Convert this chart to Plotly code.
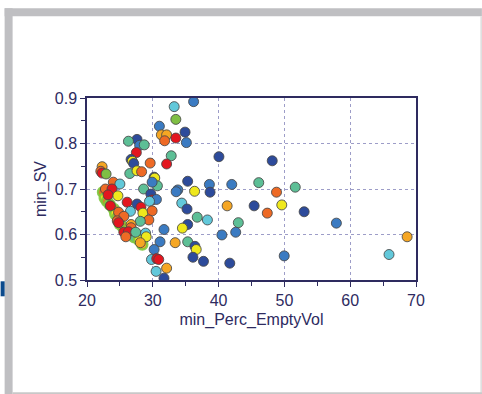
import plotly.graph_objects as go

# ---- data ----
# colour level: 0 dark blue, 1 blue, 2 cyan, 3 teal, 4 green, 5 yellow, 6 amber, 7 orange, 8 red
perc_empty = [33.25, 36.2, 33.5, 31.0, 34.9, 31.3, 32.1, 31.8, 33.5, 35.1,
              27.6, 26.3, 28.0, 28.7, 27.5, 32.8, 40.05, 26.7, 26.9, 27.1,
              29.6, 32.1, 22.3, 22.1, 22.3, 22.9, 26.5, 27.6, 28.3, 30.2,
              30.3, 24.0, 25.0, 30.7, 29.9, 35.3, 38.6, 42.0, 46.1, 22.8,
              23.8, 28.6, 33.8, 33.55, 36.35, 38.7, 23.2, 24.7, 29.7, 29.9,
              30.55, 26.1, 27.6, 23.55, 28.2, 29.5, 34.4, 35.2, 41.3, 45.4,
              24.8, 26.6, 28.5, 29.9, 36.75, 38.3, 25.6, 24.6, 29.4, 28.1,
              24.8, 26.7, 35.3, 43.0, 34.5, 31.7, 26.7, 25.6, 26.3, 27.4,
              28.9, 40.5, 42.6, 25.9, 29.0, 28.1, 31.1, 33.4, 35.3, 36.4,
              36.6, 30.2, 29.8, 30.6, 30.9, 36.1, 37.7, 41.7, 32.1, 30.5,
              31.7, 48.15, 51.65, 48.8, 49.6, 47.4, 53.0, 57.9, 68.65, 49.97,
              65.9]
min_sv = [0.881, 0.892, 0.853, 0.838, 0.825, 0.819, 0.819, 0.806, 0.812, 0.802,
          0.809, 0.805, 0.796, 0.797, 0.780, 0.773, 0.771, 0.765, 0.761, 0.756,
          0.757, 0.755, 0.749, 0.739, 0.735, 0.733, 0.734, 0.740, 0.738, 0.726,
          0.724, 0.715, 0.711, 0.707, 0.715, 0.717, 0.710, 0.710, 0.714, 0.700,
          0.700, 0.700, 0.698, 0.694, 0.695, 0.693, 0.687, 0.685, 0.689, 0.676,
          0.677, 0.671, 0.667, 0.663, 0.660, 0.673, 0.669, 0.656, 0.663, 0.663,
          0.649, 0.651, 0.647, 0.652, 0.638, 0.632, 0.640, 0.630, 0.632, 0.629,
          0.626, 0.622, 0.622, 0.626, 0.614, 0.611, 0.615, 0.605, 0.606, 0.605,
          0.603, 0.599, 0.605, 0.595, 0.595, 0.582, 0.584, 0.582, 0.584, 0.574,
          0.567, 0.567, 0.545, 0.547, 0.545, 0.550, 0.541, 0.537, 0.526, 0.519,
          0.504, 0.762, 0.704, 0.693, 0.665, 0.647, 0.650, 0.625, 0.595, 0.553,
          0.556]
level = [2, 1, 4, 1, 0, 6, 6, 7, 8, 1,
         0, 3, 1, 3, 8, 3, 0, 0, 5, 0,
         7, 8, 6, 7, 8, 4, 3, 5, 7, 0,
         5, 7, 2, 3, 1, 0, 1, 1, 3, 7,
         8, 3, 1, 1, 5, 0, 8, 5, 0, 8,
         1, 8, 0, 8, 8, 2, 2, 0, 6, 0,
         7, 2, 5, 7, 3, 2, 7, 7, 7, 3,
         8, 6, 0, 3, 5, 1, 7, 8, 8, 3,
         2, 1, 1, 7, 5, 6, 1, 6, 3, 0,
         5, 1, 2, 8, 8, 0, 0, 0, 6, 2,
         0, 0, 3, 7, 5, 7, 0, 1, 6, 1,
         2]

# dense cluster (points drawn with a green halo)
cluster_x = [22.44, 22.7, 23.05, 23.45, 24.06, 24.3, 24.67, 24.97, 25.5, 26.1,
             26.75, 27.2, 27.9, 28.4]
cluster_y = [0.693, 0.680, 0.673, 0.666, 0.656, 0.645, 0.638, 0.623, 0.616, 0.610,
             0.600, 0.594, 0.588, 0.578]
cluster_level = [7, 5, 7, 4, 7, 5, 7, 8, 7, 5, 7, 3, 5, 6]

level_colors = ["#2d4b9b", "#3b7bc2", "#62c8da", "#5dbf96", "#7fbf44",
                "#efe81c", "#f5a623", "#ee6a25", "#e3161f"]

x_title = "min_Perc_EmptyVol"
y_title = "min_SV"

# ---- figure ----
W, H = 482, 394
L, R, T, B = 86.5, 66, 97.7, 114.3
PW, PH = W - L - R, H - T - B

colorscale = []
n = len(level_colors)
for i, c in enumerate(level_colors):
    colorscale.append([i / n, c])
    colorscale.append([(i + 1) / n, c])

def mk(x, y, lv, line_color, line_width):
    return go.Scatter(
        x=x, y=y, mode="markers", showlegend=False, hoverinfo="x+y",
        marker=dict(size=10, color=[v + 0.5 for v in lv], cmin=0, cmax=n,
                    colorscale=colorscale, showscale=False,
                    line=dict(color=line_color, width=line_width)),
    )

fig = go.Figure()
fig.add_trace(mk(cluster_x, cluster_y, cluster_level, "rgba(125,200,60,0.9)", 2.5))
fig.add_trace(mk(perc_empty, min_sv, level, "rgba(70,70,70,0.85)", 1))

navy = "#2e2b5f"
grid = "#9d9dc8"
font = dict(family="Liberation Sans, Arial, sans-serif", size=16, color=navy)

fig.update_xaxes(
    range=[20, 70], tickvals=[20, 30, 40, 50, 60, 70], showgrid=True,
    gridcolor=grid, griddash="dot", gridwidth=1, zeroline=False,
    showline=True, linecolor=navy, linewidth=1.5, mirror=True,
    ticks="outside", ticklen=5, tickcolor=navy, tickwidth=1,
    minor=dict(dtick=5, ticks="outside", ticklen=4, tickcolor=navy, showgrid=False),
    tickfont=font, title=dict(text=x_title, font=font, standoff=6),
)
fig.update_yaxes(
    range=[0.5, 0.9], tickvals=[0.5, 0.6, 0.7, 0.8, 0.9], tickformat=".1f",
    showgrid=True, gridcolor=grid, griddash="dot", gridwidth=1, zeroline=False,
    showline=True, linecolor=navy, linewidth=1.5, mirror=True,
    ticks="outside", ticklen=5, tickcolor=navy, tickwidth=1,
    minor=dict(dtick=0.05, ticks="outside", ticklen=4, tickcolor=navy, showgrid=False),
    tickfont=font, title=dict(text=y_title, font=font, standoff=4),
)

def px_x(p):
    return (p - L) / PW

def px_y(p):
    return (H - B - p) / PH

frame = "#bfbfc2"
shapes = [
    # top band
    dict(type="rect", xref="paper", yref="paper", x0=px_x(4), x1=px_x(482),
         y0=px_y(16), y1=px_y(8), fillcolor=frame, line_width=0, layer="below"),
    # left band
    dict(type="rect", xref="paper", yref="paper", x0=px_x(4), x1=px_x(12),
         y0=px_y(394), y1=px_y(8), fillcolor=frame, line_width=0, layer="below"),
    # right thin line
    dict(type="rect", xref="paper", yref="paper", x0=px_x(480.5), x1=px_x(482),
         y0=px_y(394), y1=px_y(16), fillcolor="#dcdcdc", line_width=0, layer="below"),
    # bottom thin line
    dict(type="rect", xref="paper", yref="paper", x0=px_x(12), x1=px_x(482),
         y0=px_y(394), y1=px_y(392), fillcolor="#c8c8c8", line_width=0, layer="below"),
    # small blue tab
    dict(type="rect", xref="paper", yref="paper", x0=px_x(0), x1=px_x(4),
         y0=px_y(296), y1=px_y(281), fillcolor="#0b4a8c", line_width=0, layer="below"),
]

fig.update_layout(
    width=W, height=H, autosize=False,
    margin=dict(l=L, r=R, t=T, b=B, pad=0),
    paper_bgcolor="white", plot_bgcolor="white",
    shapes=shapes, font=font,
)

fig.write_html(
    "out.html",
    config={"displayModeBar": False},
    post_script="document.body.style.margin='0';document.documentElement.style.overflow='hidden';",
)
